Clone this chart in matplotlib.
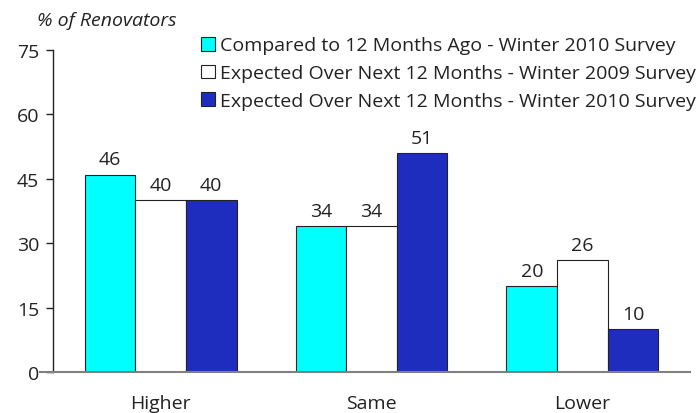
import matplotlib
matplotlib.use("Agg")
import matplotlib.pyplot as plt
from matplotlib.lines import Line2D
import numpy as np

plt.rcParams['font.family'] = ['Open Sans', 'DejaVu Sans']

categories = ["Higher", "Same", "Lower"]
series_names = [
    "Compared to 12 Months Ago - Winter 2010 Survey",
    "Expected Over Next 12 Months - Winter 2009 Survey",
    "Expected Over Next 12 Months - Winter 2010 Survey",
]
compared_2010 = [46, 34, 20]
expected_2009 = [40, 34, 26]
expected_2010 = [40, 51, 10]
y_ticks = [0, 15, 30, 45, 60, 75]

colors = ["#00FFFF", "#FFFFFF", "#1F2DBF"]
fs = 14.0
leg_fs = 14.0

fig = plt.figure(figsize=(7.0, 4.14), dpi=100)
ax = fig.add_axes([53 / 700, 1 - 373 / 414, (690 - 53) / 700, (373 - 51) / 414])

x = np.arange(len(categories))
w = 0.24
for i, (vals, c) in enumerate(zip([compared_2010, expected_2009, expected_2010], colors)):
    pos = x + (i - 1) * w
    bars = ax.bar(pos, vals, width=w, color=c, edgecolor="#222222", linewidth=0.8, zorder=2)
    for b, v in zip(bars, vals):
        ax.text(b.get_x() + b.get_width() / 2, v + 1.5, f"{v}", ha="center", va="bottom",
                fontsize=fs, color="#222222")

ax.set_xlim(-0.51, 2.51)
ax.set_ylim(0, 75)
ax.set_yticks(y_ticks)
ax.tick_params(axis="y", labelsize=fs, length=5, width=1, colors="#222222", pad=5)
ax.set_xticks(x)
ax.set_xticklabels(categories, fontsize=fs, color="#222222")
ax.tick_params(axis="x", length=0, pad=16)

for s in ["top", "right", "bottom"]:
    ax.spines[s].set_visible(False)
ax.spines["left"].set_color("#222222")
ax.spines["left"].set_linewidth(1)
ax.add_line(Line2D([-0.02, 1.0], [0, 0], transform=ax.transAxes, color="#808080",
                   linewidth=1.5, clip_on=False, zorder=3))

fig.text(37 / 700, 1 - 21 / 414, "% of Renovators", fontsize=fs, style="italic",
         color="#222222", va="center", ha="left")

handles = [plt.Rectangle((0, 0), 1, 1, facecolor=c, edgecolor="#222222", linewidth=0.8)
           for c in colors]
leg = fig.legend(handles, series_names, loc="upper left", bbox_to_anchor=(201 / 700, 1 - 37.5 / 414),
                 frameon=False, fontsize=leg_fs, handlelength=0.7, handleheight=0.7,
                 handletextpad=0.3, labelspacing=0.5, borderaxespad=0, borderpad=0)
for t in leg.get_texts():
    t.set_color("#222222")

fig.savefig("out.png", dpi=100)
